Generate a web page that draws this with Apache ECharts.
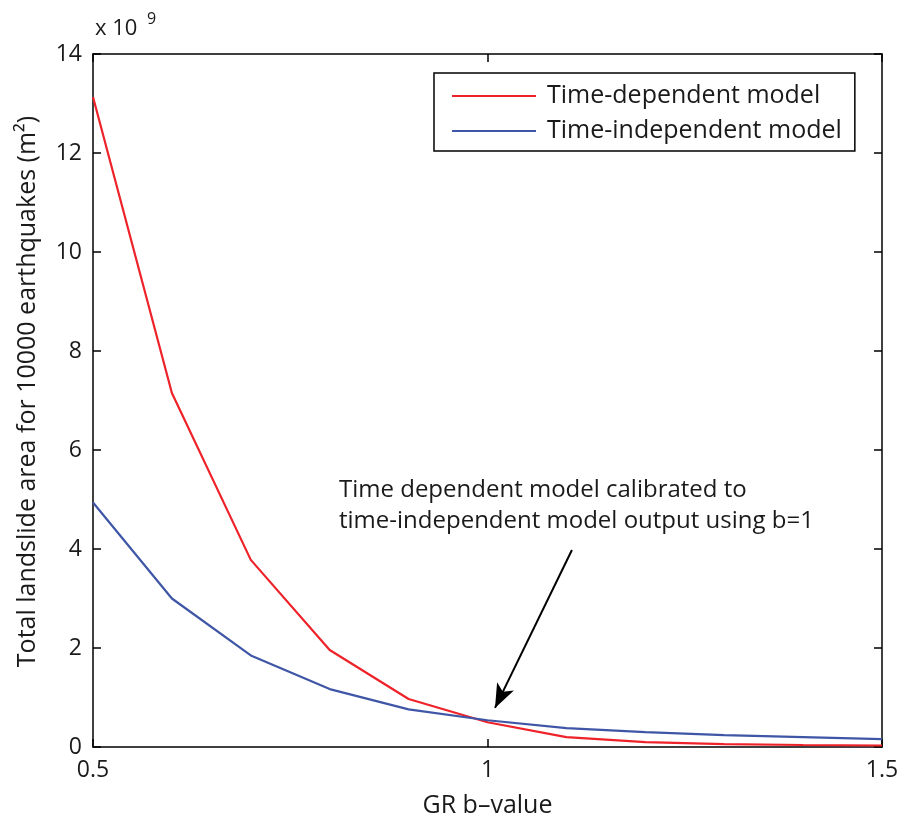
<!DOCTYPE html>
<html><head><meta charset="utf-8">
<script src="https://cdn.jsdelivr.net/npm/echarts@6/dist/echarts.min.js"></script>
<style>html,body{margin:0;padding:0;background:#fff}#c{width:901px;height:818px}</style>
</head><body><div id="c"></div>
<script>
const bValues = [0.5,0.6,0.7,0.8,0.9,1.0,1.1,1.2,1.3,1.4,1.5];
const timeDependent = [13.13,7.15,3.78,1.96,0.97,0.50,0.20,0.10,0.06,0.04,0.03];
const timeIndependent = [4.94,3.00,1.85,1.17,0.76,0.54,0.38,0.30,0.24,0.20,0.16];
const xTicks = [0.5,1,1.5];
const yTicks = [0,2,4,6,8,10,12,14];
const seriesNames = ['Time-dependent model','Time-independent model'];
const arrowFrom = [1.107, 3.98];
const arrowTo = [1.0095, 0.79];

const FONT = '"Open Sans", "DejaVu Sans", sans-serif';
const TXT = '#1a1a1a';
const chart = echarts.init(document.getElementById('c'), null, {renderer:'canvas'});
const axisCommon = {
  type:'value',
  axisLine:{show:true,onZero:false,lineStyle:{color:'#000',width:1.5}},
  axisTick:{show:true,inside:true,length:8,lineStyle:{color:'#000',width:1.5}},
  splitLine:{show:false}
};
chart.setOption({
  animation:false,
  grid:{left:93,right:19,top:54,bottom:71,show:false,containLabel:false,outerBoundsMode:'none'},
  xAxis:[
    Object.assign({}, axisCommon, {min:xTicks[0],max:xTicks[xTicks.length-1],interval:0.5,position:'bottom',
      name:'GR b\u2013value',nameLocation:'middle',nameGap:46,nameTextStyle:{fontFamily:FONT,fontSize:25,color:TXT},
      axisLabel:{show:true,margin:12,fontFamily:FONT,fontSize:23,color:TXT,formatter:v=>String(v)}}),
    Object.assign({}, axisCommon, {min:xTicks[0],max:xTicks[xTicks.length-1],interval:0.5,position:'top',axisLabel:{show:false}})
  ],
  yAxis:[
    Object.assign({}, axisCommon, {min:yTicks[0],max:yTicks[yTicks.length-1],interval:2,position:'left',
      name:'Total landslide area for 10000 earthquakes (m\u00B2)',nameLocation:'middle',nameGap:53,nameRotate:90,
      nameTextStyle:{fontFamily:FONT,fontSize:25,color:TXT,padding:[0,0,0,18]},
      axisLabel:{show:true,margin:11,fontFamily:FONT,fontSize:23,color:TXT}}),
    Object.assign({}, axisCommon, {min:yTicks[0],max:yTicks[yTicks.length-1],interval:2,position:'right',axisLabel:{show:false}})
  ],
  legend:{
    left:434,top:73,orient:'vertical',
    backgroundColor:'#fff',
    borderColor:'#000',borderWidth:1.5,
    padding:[8,13,5,18],itemGap:5,itemWidth:84,itemHeight:2,icon:'rect',
    textStyle:{fontFamily:FONT,fontSize:25,color:TXT,padding:[0,0,0,6],lineHeight:30},
    data:seriesNames
  },
  series:[
    {name:seriesNames[0],type:'line',xAxisIndex:0,yAxisIndex:0,symbol:'none',showSymbol:false,
     lineStyle:{color:'#ee2229',width:2.2},itemStyle:{color:'#ee2229'},
     data:bValues.map((b,i)=>[b,timeDependent[i]]),
     markLine:{silent:true,symbol:['none','arrow'],symbolSize:[14,24],label:{show:false},
       lineStyle:{color:'#000',width:2,type:'solid'},
       data:[[{coord:arrowFrom},{coord:arrowTo}]]}},
    {name:seriesNames[1],type:'line',xAxisIndex:0,yAxisIndex:0,symbol:'none',showSymbol:false,
     lineStyle:{color:'#3f56a6',width:2.2},itemStyle:{color:'#3f56a6'},
     data:bValues.map((b,i)=>[b,timeIndependent[i]])}
  ],
  graphic:[
    {type:'text',left:95,top:18,style:{text:'x 10',font:'22px '+FONT,fill:TXT}},
    {type:'text',left:147,top:11,style:{text:'9',font:'16px '+FONT,fill:TXT}},
    {type:'text',left:339,top:475,style:{text:'Time dependent model calibrated to\ntime-independent model output using b=1',
      font:'24px '+FONT,fill:TXT,lineHeight:31}}
  ]
});
</script></body></html>
